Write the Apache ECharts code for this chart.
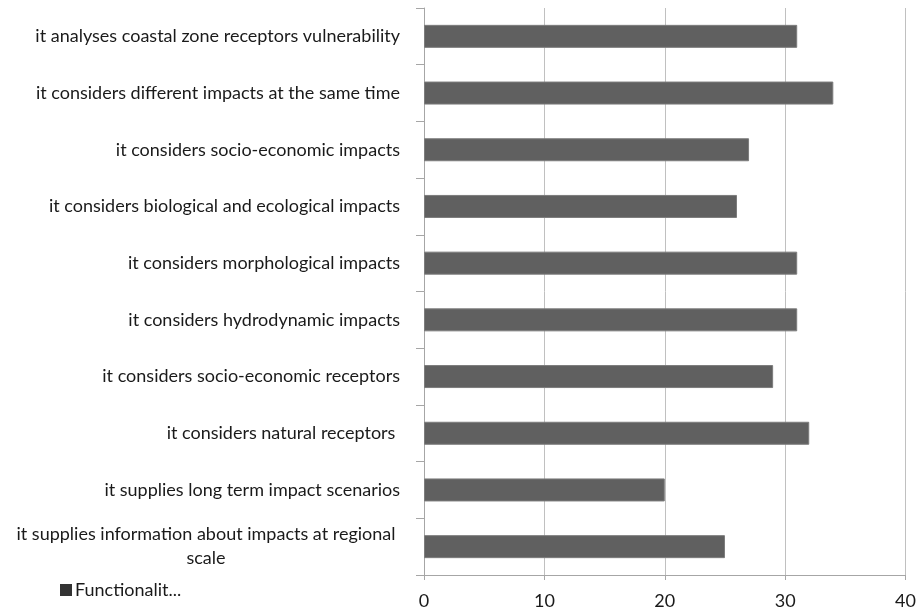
<!DOCTYPE html>
<html>
<head>
<meta charset="utf-8">
<script src="https://cdn.jsdelivr.net/npm/echarts@6/dist/echarts.min.js"></script>
<style>
  html, body { margin: 0; padding: 0; background: #fff; }
  #chart { width: 919px; height: 610px; }
</style>
</head>
<body>
<div id="chart"></div>
<script>
// Functionality criteria, listed top to bottom
var categories = [
  'it analyses coastal zone receptors vulnerability',
  'it considers different impacts at the same time',
  'it considers socio-economic impacts',
  'it considers biological and ecological impacts',
  'it considers morphological impacts',
  'it considers hydrodynamic impacts',
  'it considers socio-economic receptors',
  'it considers natural receptors ',
  'it supplies long term impact scenarios',
  'it supplies information about impacts at regional\nscale'
];
var values = [31, 34, 27, 26, 31, 31, 29, 32, 20, 25];
var seriesName = 'Functionalit...';
var xTicks = [0, 10, 20, 30, 40];

var FONT = 'Lato';
var TEXT = '#1a1a1a';
var chart = echarts.init(document.getElementById('chart'), null, { renderer: 'canvas' });

chart.setOption({
  animation: false,
  backgroundColor: '#ffffff',
  textStyle: { fontFamily: FONT },
  grid: { left: 424, right: 12, top: 8, bottom: 34, containLabel: false },
  legend: {
    data: [seriesName],
    left: 55,
    top: 576,
    itemWidth: 12,
    itemHeight: 12,
    itemGap: 4,
    icon: 'rect',
    itemStyle: { color: '#333333', borderWidth: 0 },
    textStyle: { fontFamily: FONT, fontSize: 18, color: TEXT, padding: [0, 0, 0, -2] }
  },
  xAxis: {
    type: 'value',
    min: xTicks[0],
    max: xTicks[xTicks.length - 1],
    interval: xTicks[1] - xTicks[0],
    axisLine: { show: true, lineStyle: { color: '#a6a6a6', width: 1 } },
    axisTick: { show: true, length: 5, lineStyle: { color: '#a6a6a6' } },
    axisLabel: { fontFamily: FONT, fontSize: 18, color: TEXT, margin: 17 },
    splitLine: { show: true, lineStyle: { color: '#c0c0c0', width: 1 } }
  },
  yAxis: {
    type: 'category',
    inverse: true,
    data: categories,
    axisLine: { show: true, lineStyle: { color: '#a6a6a6', width: 1 } },
    axisTick: { show: true, length: 8, lineStyle: { color: '#a6a6a6' } },
    axisLabel: {
      fontFamily: FONT,
      fontSize: 18,
      color: TEXT,
      margin: 24,
      formatter: function (v) {
        if (v.indexOf('\n') >= 0) {
          var parts = v.split('\n');
          return '{w|' + parts[0] + '}\n{w|' + parts[1] + '}';
        }
        return v;
      },
      rich: {
        w: { fontFamily: FONT, fontSize: 18, color: TEXT, width: 388, align: 'center', lineHeight: 24 }
      }
    }
  },
  series: [{
    name: seriesName,
    type: 'bar',
    data: values,
    barWidth: 23,
    itemStyle: { color: '#606060', borderColor: '#7c7c7c', borderWidth: 1 }
  }]
});
</script>
</body>
</html>
